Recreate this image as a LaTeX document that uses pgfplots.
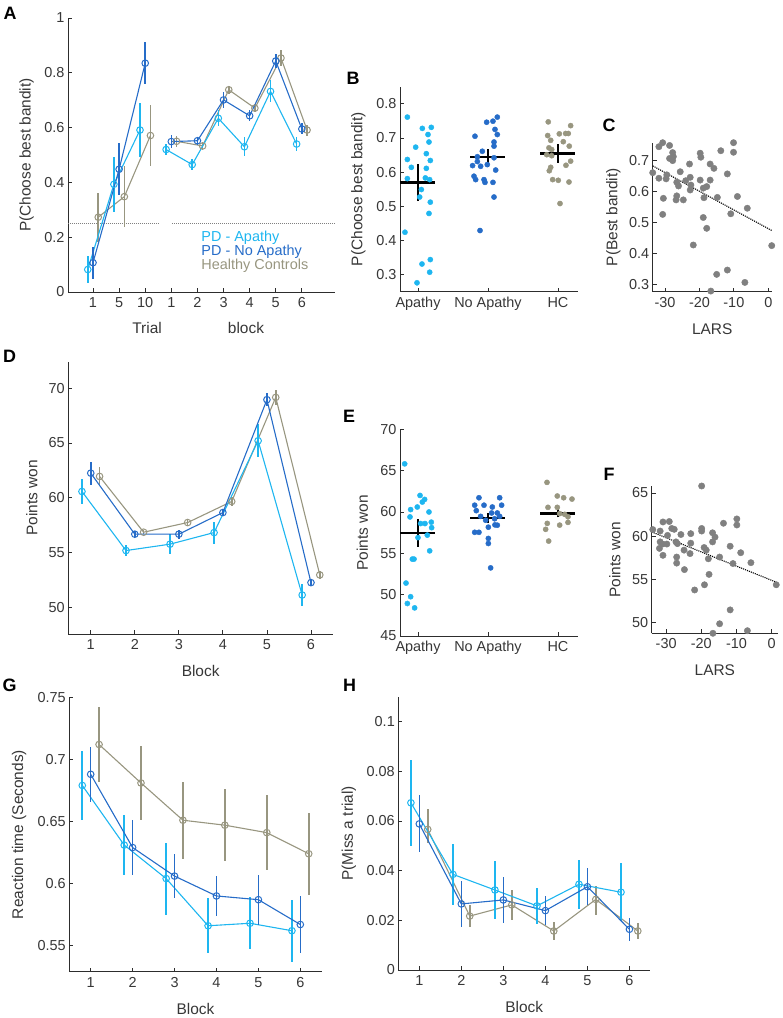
\documentclass[border=0pt]{standalone}
\usepackage{pgfplots}
\pgfplotsset{compat=1.18}
\usepackage{fontspec}
\setmainfont{Liberation Sans}
\definecolor{cap}{RGB}{30,182,240}
\definecolor{cnap}{RGB}{38,108,200}
\definecolor{chc}{RGB}{152,150,128}
\definecolor{cdot}{RGB}{128,128,128}
\definecolor{txt}{RGB}{55,55,55}
\definecolor{axc}{RGB}{45,45,45}
\pgfplotsset{
  panel/.style={
    scale only axis, anchor=south west, clip=false,
    axis lines=left,
    axis line style={-, draw=axc, line width=0.9bp},
    tick align=inside, major tick length=4bp,
    tick style={draw=axc, line width=0.8bp},
    tick label style={font=\fontsize{14.5}{16}\selectfont, text=txt},
    xticklabel style={yshift=-2bp},
    /pgf/number format/assume math mode=true,
    every axis x label/.style={at={(axis description cs:0.5,0)}, anchor=center, yshift=-37bp, font=\fontsize{15.5}{18}\selectfont, text=txt},
  },
  ylab/.style={every axis y label/.style={at={(axis description cs:#1,0.5)}, anchor=center, rotate=90, font=\fontsize{15.5}{18}\selectfont, text=txt}},
  grp/.style={color=#1, line width=1.1bp, mark=o, mark size=3.3bp, mark options={line width=1bp, solid},
    error bars/y dir=both, error bars/y explicit, error bars/error mark=none,
    error bars/error bar style={line width=1.6bp, color=#1}},
  dots/.style={only marks, mark=*, mark size=#1, mark options={draw=none}},
  mline/.style={black, line width=2.6bp},
}
\newcommand{\plab}[3]{\node[font=\bfseries\fontsize{18}{20}\selectfont, text=black] at (#1bp,#2bp) {#3};}
\begin{document}
\begin{tikzpicture}
\path[use as bounding box] (0,0) rectangle (783bp,1018bp);

% ---------------- A ----------------
\begin{axis}[panel, ylab=-0.1547, at={(68bp,726bp)}, width=267bp, height=274bp,
  xmin=0.042, xmax=10.27, ymin=0, ymax=1,
  xtick={1,2,3,4,5,6,7,8,9}, xticklabels={1,5,10,1,2,3,4,5,6},
  ytick={0,0.2,0.4,0.6,0.8,1}, yticklabels={0,0.2,0.4,0.6,0.8,1},
  ylabel={P(Choose best bandit)}]
\addplot[cdot, densely dotted, line width=1bp] coordinates {(0.042,0.25) (3.49,0.25)};
\addplot[cdot, densely dotted, line width=1bp] coordinates {(4.03,0.25) (10.27,0.25)};
% HC
\addplot[grp=chc] coordinates {(1.2,0.273) +- (0,0.09) (2.2,0.348) +- (0,0.11) (3.2,0.571) +- (0,0.11)};
\addplot[grp=chc] coordinates {(4.2,0.550) +- (0,0.02) (5.2,0.533) +- (0,0.015) (6.2,0.738) +- (0,0.015) (7.2,0.671) +- (0,0.015) (8.2,0.854) +- (0,0.03) (9.2,0.591) +- (0,0.02)};
% Apathy
\addplot[grp=cap] coordinates {(0.8,0.082) +- (0,0.05) (1.8,0.393) +- (0,0.1) (2.8,0.591) +- (0,0.1)};
\addplot[grp=cap] coordinates {(3.8,0.520) +- (0,0.02) (4.8,0.465) +- (0,0.02) (5.8,0.634) +- (0,0.03) (6.8,0.530) +- (0,0.035) (7.8,0.732) +- (0,0.04) (8.8,0.540) +- (0,0.025)};
% No apathy
\addplot[grp=cnap] coordinates {(1,0.107) +- (0,0.058) (2,0.448) +- (0,0.095) (3,0.835) +- (0,0.077)};
\addplot[grp=cnap] coordinates {(4,0.549) +- (0,0.025) (5,0.552) +- (0,0.015) (6,0.701) +- (0,0.03) (7,0.643) +- (0,0.02) (8,0.843) +- (0,0.025) (9,0.595) +- (0,0.02)};
\node[anchor=west, text=cap, font=\fontsize{14.5}{16}\selectfont] at (axis cs:5.02,0.197) {PD - Apathy};
\node[anchor=west, text=cnap, font=\fontsize{14.5}{16}\selectfont] at (axis cs:5.02,0.146) {PD - No Apathy};
\node[anchor=west, text=chc, font=\fontsize{14.5}{16}\selectfont] at (axis cs:5.02,0.095) {Healthy Controls};
\node[anchor=center, text=txt, font=\fontsize{15.5}{18}\selectfont, yshift=-36bp] at (axis cs:3.07,0) {Trial};
\node[anchor=center, text=txt, font=\fontsize{15.5}{18}\selectfont, yshift=-36bp] at (axis cs:6.86,0) {block};
\end{axis}

% ---------------- B ----------------
\begin{axis}[panel, ylab=-0.234, at={(400bp,726.3bp)}, width=178bp, height=205bp,
  xmin=0.743, xmax=3.286, ymin=0.25, ymax=0.85,
  xtick={1,2,3}, xticklabels={Apathy,No Apathy,HC},
  ytick={0.3,0.4,0.5,0.6,0.7,0.8}, yticklabels={0.3,0.4,0.5,0.6,0.7,0.8},
  ylabel={P(Choose best bandit)}]
\addplot[dots=2.6bp, color=cap] coordinates {(0.848,0.761) (1.062,0.728) (1.19,0.731) (1.143,0.710) (1.157,0.688) (0.967,0.673) (0.848,0.637) (1.119,0.654) (1.176,0.634) (0.905,0.614) (1.119,0.611) (0.848,0.581) (1.105,0.583) (1.167,0.578) (1.048,0.549) (1.024,0.527) (1.176,0.512) (1.157,0.479) (0.814,0.424) (1.057,0.331) (1.176,0.344) (1.167,0.307) (0.986,0.276)};
\addplot[dots=2.6bp, color=cnap] coordinates {(2.133,0.761) (1.981,0.746) (2.071,0.749) (2.1,0.725) (2.133,0.710) (1.814,0.705) (2.086,0.688) (2.086,0.676) (1.919,0.661) (1.848,0.645) (2.086,0.642) (1.848,0.631) (1.99,0.622) (1.78,0.619) (1.895,0.617) (2.11,0.606) (1.8,0.588) (1.943,0.578) (1.824,0.578) (1.957,0.570) (2.071,0.570) (2.086,0.527) (1.886,0.429)};
\addplot[dots=2.6bp, color=chc] coordinates {(2.861,0.747) (3.181,0.736) (2.853,0.707) (3.019,0.712) (3.11,0.713) (3.147,0.713) (2.896,0.693) (3.076,0.689) (2.871,0.671) (2.91,0.666) (3.161,0.676) (2.839,0.651) (2.91,0.648) (3.181,0.632) (3.114,0.620) (2.896,0.614) (2.876,0.604) (2.924,0.578) (3.004,0.576) (3.157,0.571) (3.029,0.508)};
\addplot[mline] coordinates {(0.75,0.570) (1.25,0.570)};
\addplot[mline] coordinates {(1,0.515) (1,0.624)};
\addplot[mline] coordinates {(1.75,0.644) (2.25,0.644)};
\addplot[mline] coordinates {(2,0.615) (2,0.668)};
\addplot[mline] coordinates {(2.75,0.654) (3.25,0.654)};
\addplot[mline] coordinates {(3,0.627) (3,0.681)};
\end{axis}

% ---------------- C ----------------
\begin{axis}[panel, ylab=-0.331, at={(652.7bp,726.3bp)}, width=119bp, height=149bp,
  xmin=-33.6, xmax=1.0, ymin=0.276, ymax=0.758,
  xtick={-30,-20,-10,0}, xticklabels={-30,-20,-10,0},
  ytick={0.3,0.4,0.5,0.6,0.7}, yticklabels={0.3,0.4,0.5,0.6,0.7},
  xlabel={LARS}, ylabel={P(Best bandit)}]
\addplot[dots=3.2bp, color=cdot] coordinates {(-33.6,0.661) (-31.8,0.745) (-30.7,0.758) (-28.7,0.749) (-31.8,0.643) (-29.7,0.641) (-30.5,0.578) (-30.7,0.526) (-29.5,0.654) (-27.8,0.726) (-27.6,0.713) (-28.7,0.707) (-27.8,0.700) (-26.6,0.586) (-26.8,0.573) (-26.6,0.630) (-26.1,0.618) (-25.6,0.664) (-24.7,0.573) (-24.0,0.635) (-22.9,0.689) (-22.7,0.646) (-22.5,0.621) (-22.7,0.605) (-21.8,0.427) (-19.8,0.724) (-19.6,0.711) (-19.8,0.637) (-18.9,0.611) (-18.7,0.580) (-18.9,0.516) (-17.9,0.481) (-17.9,0.616) (-16.9,0.637) (-16.9,0.689) (-15.8,0.675) (-16.7,0.278) (-15.0,0.332) (-14.8,0.581) (-13.8,0.732) (-11.9,0.657) (-11.9,0.346) (-10.9,0.528) (-10.1,0.758) (-10.1,0.727) (-8.97,0.584) (-6.8,0.306) (-6.1,0.546) (1.0,0.425)};
\addplot[black, densely dotted, line width=1.1bp] coordinates {(-33.6,0.683) (1.0,0.474)};
\end{axis}

% ---------------- D ----------------
\begin{axis}[panel, ylab=-0.138, at={(68.3bp,384bp)}, width=264.7bp, height=272.3bp,
  xmin=0.49, xmax=6.5, ymin=47.6, ymax=72.4,
  xtick={1,2,3,4,5,6}, ytick={50,55,60,65,70},
  xlabel={Block}, ylabel={Points won}]
\addplot[grp=chc] coordinates {(1.2,61.95) +- (0,0.9) (2.2,56.87) +- (0,0.2) (3.2,57.75) +- (0,0.3) (4.2,59.67) +- (0,0.4) (5.2,69.15) +- (0,0.7) (6.2,52.98) +- (0,0.4)};
\addplot[grp=cap] coordinates {(0.8,60.58) +- (0,1.1) (1.8,55.2) +- (0,0.5) (2.8,55.78) +- (0,0.9) (3.8,56.84) +- (0,1.0) (4.8,65.2) +- (0,1.5) (5.8,51.15) +- (0,1.0)};
\addplot[grp=cnap] coordinates {(1,62.25) +- (0,1.05) (2,56.69) +- (0,0.3) (3,56.69) +- (0,0.4) (4,58.66) +- (0,0.3) (5,68.94) +- (0,0.6) (6,52.28) +- (0,0.3)};
\end{axis}

% ---------------- E ----------------
\begin{axis}[panel, ylab=-0.211, at={(400bp,382bp)}, width=178bp, height=206.7bp,
  xmin=0.743, xmax=3.286, ymin=45, ymax=70,
  xtick={1,2,3}, xticklabels={Apathy,No Apathy,HC},
  ytick={45,50,55,60,65,70},
  ylabel={Points won}]
\addplot[dots=2.6bp, color=cap] coordinates {(0.81,65.82) (1.029,62.0) (1.095,61.52) (1.062,61.2) (0.895,60.29) (0.99,60.6) (1.157,60.0) (0.886,59.4) (1.038,58.6) (1.19,58.77) (1.1,58.6) (1.195,58.1) (1.0,56.9) (1.133,57.2) (0.943,54.3) (0.919,54.3) (1.167,55.3) (0.829,51.4) (0.895,49.75) (0.848,48.93) (0.952,48.4)};
\addplot[dots=2.6bp, color=cnap] coordinates {(1.871,61.72) (2.167,61.72) (1.81,60.82) (1.943,60.82) (2.062,60.6) (2.195,60.82) (1.833,60.16) (2.133,59.88) (2.167,59.47) (1.895,59.47) (2.052,59.88) (2.095,59.18) (1.967,59.0) (2.1,58.44) (2.005,58.16) (2.133,58.4) (1.81,57.54) (1.871,57.54) (2.005,56.8) (2.005,56.19) (2.038,53.24)};
\addplot[dots=2.6bp, color=chc] coordinates {(2.843,63.58) (2.99,61.93) (3.081,61.72) (3.2,61.56) (2.857,60.56) (2.99,60.56) (3.096,59.71) (3.143,59.42) (3.024,59.8) (2.847,58.62) (3.024,58.41) (3.143,58.74) (2.824,57.9) (2.867,56.48)};
\addplot[mline] coordinates {(0.75,57.45) (1.25,57.45)};
\addplot[mline] coordinates {(1,55.8) (1,59.2)};
\addplot[mline] coordinates {(1.75,59.25) (2.25,59.25)};
\addplot[mline] coordinates {(2,58.65) (2,59.85)};
\addplot[mline] coordinates {(2.75,59.85) (3.25,59.85)};
\addplot[mline] coordinates {(3,59.35) (3,60.35)};
\end{axis}

% ---------------- F ----------------
\begin{axis}[panel, ylab=-0.291, at={(651.7bp,384.7bp)}, width=126.3bp, height=147.3bp,
  xmin=-34.1, xmax=1.8, ymin=48.8, ymax=65.8,
  xtick={-30,-20,-10,0}, xticklabels={-30,-20,-10,0},
  ytick={50,55,60,65},
  xlabel={LARS}, ylabel={Points won}]
\addplot[dots=3.2bp, color=cdot] coordinates {(-33.8,60.77) (-31.7,60.6) (-30.9,61.65) (-29.1,61.7) (-31.7,59.35) (-31.9,58.6) (-31.0,59.1) (-29.8,59.1) (-30.9,57.8) (-29.6,60.1) (-28.4,60.9) (-27.7,60.8) (-27.2,59.35) (-26.8,59.15) (-25.8,60.2) (-27.0,57.6) (-27.0,56.9) (-24.8,56.15) (-24.9,58.4) (-23.2,58.0) (-23.0,59.2) (-23.0,60.3) (-21.9,53.8) (-19.9,60.9) (-19.9,60.6) (-19.2,58.7) (-18.6,58.4) (-18.0,57.4) (-17.8,55.6) (-19.1,54.4) (-19.9,65.8) (-16.8,60.4) (-16.1,59.9) (-16.8,59.35) (-14.8,57.6) (-16.7,48.8) (-14.8,49.9) (-13.7,61.5) (-11.8,58.85) (-11.8,51.5) (-11.0,56.85) (-9.9,62.0) (-9.9,61.3) (-8.8,58.1) (-6.9,49.1) (-5.9,56.95) (1.3,54.4)};
\addplot[black, densely dotted, line width=1.1bp] coordinates {(-34.1,60.5) (1.3,54.7)};
\end{axis}

% ---------------- G ----------------
\begin{axis}[panel, ylab=-0.199, at={(69.3bp,46.3bp)}, width=252.4bp, height=274.4bp,
  xmin=0.49, xmax=6.51, ymin=0.529, ymax=0.75,
  xtick={1,2,3,4,5,6}, ytick={0.55,0.6,0.65,0.7,0.75}, yticklabels={0.55,0.6,0.65,0.7,0.75},
  xlabel={Block}, ylabel={Reaction time (Seconds)}]
\addplot[grp=chc] coordinates {(1.2,0.712) +- (0,0.030) (2.2,0.681) +- (0,0.030) (3.2,0.651) +- (0,0.031) (4.2,0.647) +- (0,0.029) (5.2,0.641) +- (0,0.030) (6.2,0.624) +- (0,0.033)};
\addplot[grp=cap] coordinates {(0.8,0.679) +- (0,0.028) (1.8,0.631) +- (0,0.024) (2.8,0.604) +- (0,0.029) (3.8,0.566) +- (0,0.022) (4.8,0.568) +- (0,0.021) (5.8,0.562) +- (0,0.025)};
\addplot[grp=cnap] coordinates {(1,0.688) +- (0,0.022) (2,0.629) +- (0,0.022) (3,0.606) +- (0,0.018) (4,0.590) +- (0,0.016) (5,0.587) +- (0,0.020) (6,0.567) +- (0,0.023)};
\end{axis}

% ---------------- H ----------------
\begin{axis}[panel, ylab=-0.196, at={(398.3bp,48bp)}, width=251.7bp, height=273.3bp,
  xmin=0.5, xmax=6.49, ymin=0, ymax=0.110,
  xtick={1,2,3,4,5,6}, ytick={0,0.02,0.04,0.06,0.08,0.1}, yticklabels={0,0.02,0.04,0.06,0.08,0.1},
  xlabel={Block}, ylabel={P(Miss a trial)}]
\addplot[grp=chc] coordinates {(1.2,0.0566) += (0,0.0084) -= (0,0.0054) (2.2,0.0217) += (0,0.0043) -= (0,0.0045) (3.2,0.0262) += (0,0.0059) -= (0,0.0059) (4.2,0.0157) += (0,0.0036) -= (0,0.0036) (5.2,0.0284) += (0,0.0054) -= (0,0.0063) (6.2,0.0157) += (0,0.0034) -= (0,0.0034)};
\addplot[grp=cap] coordinates {(0.8,0.0673) +- (0,0.0172) (1.8,0.0385) +- (0,0.0124) (2.8,0.0322) +- (0,0.0116) (3.8,0.0258) +- (0,0.0074) (4.8,0.0345) +- (0,0.0098) (5.8,0.0313) +- (0,0.0116)};
\addplot[grp=cnap] coordinates {(1,0.0588) +- (0,0.0115) (2,0.0266) +- (0,0.0092) (3,0.0282) +- (0,0.0092) (4,0.0239) +- (0,0.0059) (5,0.0335) +- (0,0.0075) (6,0.0164) +- (0,0.0047)};
\end{axis}

\plab{10}{1005}{A}
\plab{353}{939.5}{B}
\plab{609}{893}{C}
\plab{9.7}{661.3}{D}
\plab{349}{602}{E}
\plab{609}{544}{F}
\plab{9.7}{333}{G}
\plab{349.7}{333}{H}
\end{tikzpicture}
\end{document}
